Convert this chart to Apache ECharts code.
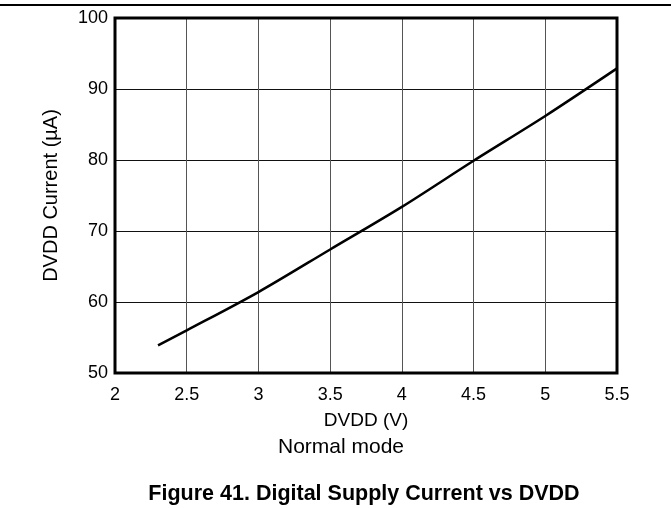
<!DOCTYPE html>
<html>
<head>
<meta charset="utf-8">
<script src="https://cdn.jsdelivr.net/npm/echarts@6/dist/echarts.min.js"></script>
<style>html,body{margin:0;padding:0;background:#fff}#c{width:671px;height:508px}</style>
</head>
<body>
<div id="c"></div>
<script>
const dvdd = [2.3, 2.5, 3.0, 3.5, 4.0, 4.5, 5.0, 5.5];
const current = [53.9, 56.0, 61.4, 67.4, 73.4, 79.9, 86.2, 92.9];
const xTicks = [2, 2.5, 3, 3.5, 4, 4.5, 5, 5.5];
const yTicks = [50, 60, 70, 80, 90, 100];
const xName = 'DVDD (V)';
const yName = 'DVDD Current (\u00b5A)';
const subtitle = 'Normal mode';
const caption = 'Figure 41. Digital Supply Current vs DVDD';

const font = 'Arial, "Liberation Sans", sans-serif';
const chart = echarts.init(document.getElementById('c'), null, {renderer: 'canvas'});
chart.setOption({
  animation: false,
  backgroundColor: '#fff',
  grid: {left: 115, right: 54, top: 18, bottom: 135, show: true, borderColor: '#000', borderWidth: 3, backgroundColor: 'transparent', z: 3},
  title: [
    {text: subtitle, left: 336, top: 432, textAlign: 'center', textStyle: {fontFamily: font, fontSize: 21, fontWeight: 'normal', color: '#000'}},
    {text: caption, left: 359, top: 478, textAlign: 'center', textStyle: {fontFamily: font, fontSize: 21.5, fontWeight: 'bold', color: '#000'}}
  ],
  xAxis: {
    type: 'value', min: xTicks[0], max: xTicks[xTicks.length - 1], interval: 0.5,
    name: xName, nameLocation: 'middle', nameGap: 38,
    nameTextStyle: {fontFamily: font, fontSize: 19, color: '#000'},
    axisLine: {show: false}, axisTick: {show: false},
    axisLabel: {fontFamily: font, fontSize: 18, color: '#000', margin: 13},
    splitLine: {show: true, lineStyle: {color: '#555', width: 1}}
  },
  yAxis: {
    type: 'value', min: yTicks[0], max: yTicks[yTicks.length - 1], interval: 10,
    name: yName, nameLocation: 'middle', nameGap: 54, nameRotate: 90,
    nameTextStyle: {fontFamily: font, fontSize: 20, color: '#000'},
    axisLine: {show: false}, axisTick: {show: false},
    axisLabel: {fontFamily: font, fontSize: 18, color: '#000', margin: 7},
    splitLine: {show: true, lineStyle: {color: '#111', width: 1}}
  },
  graphic: [
    {type: 'line', shape: {x1: 0, y1: 5, x2: 671, y2: 5}, style: {stroke: '#000', lineWidth: 2}}
  ],
  series: [{
    type: 'line', data: dvdd.map((v, i) => [v, current[i]]),
    smooth: 0.3, symbol: 'none', lineStyle: {color: '#000', width: 2.5}, z: 5
  }]
});
</script>
</body>
</html>
